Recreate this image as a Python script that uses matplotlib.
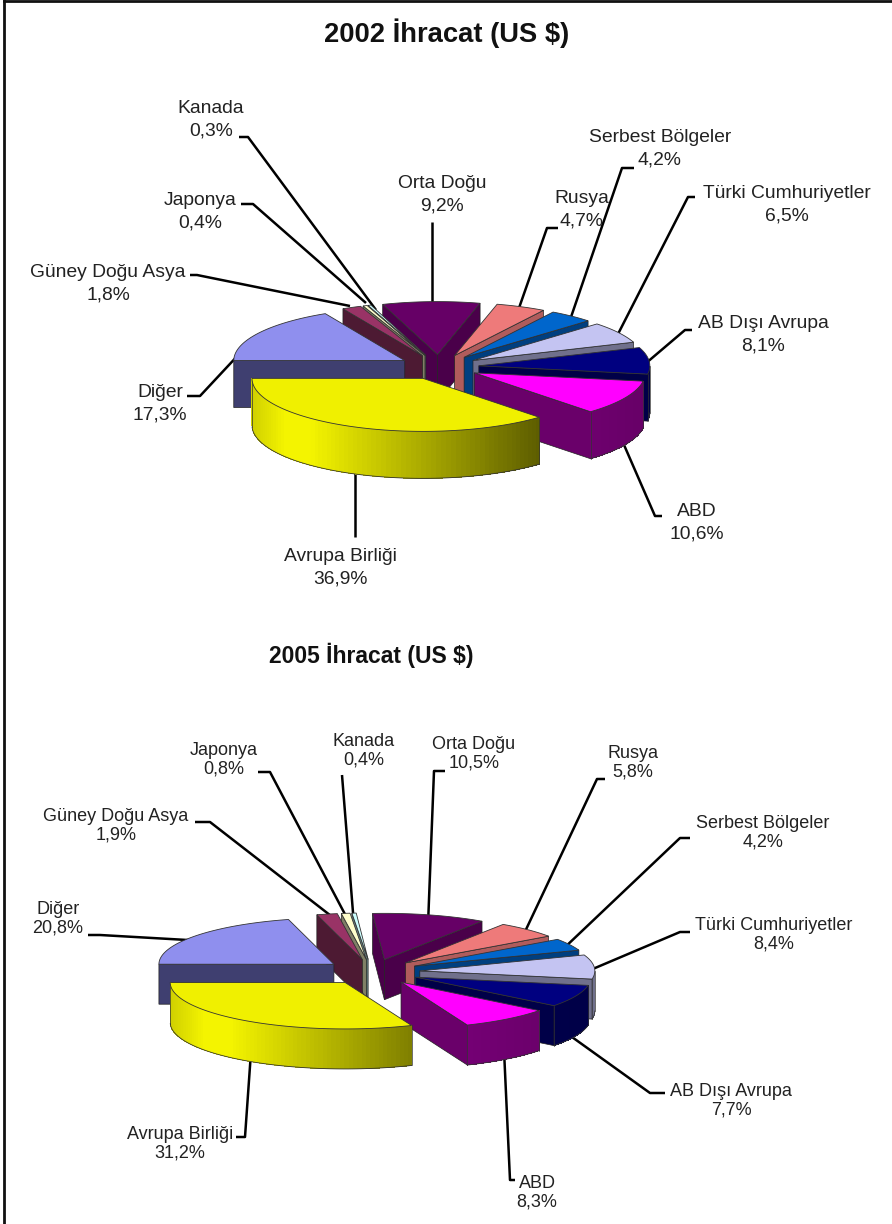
import numpy as np
import matplotlib
matplotlib.use('Agg')
import matplotlib.pyplot as plt
from matplotlib.colors import to_rgb
from matplotlib.patches import Polygon

plt.rcParams['font.family'] = ['Liberation Sans', 'DejaVu Sans']

# data, clockwise from the top slice
names = ['Orta Doğu', 'Rusya', 'Serbest Bölgeler', 'Türki Cumhuriyetler', 'AB Dışı Avrupa', 'ABD',
         'Avrupa Birliği', 'Diğer', 'Güney Doğu Asya', 'Japonya', 'Kanada']
values_2002 = [9.2, 4.7, 4.2, 6.5, 8.1, 10.6, 36.9, 17.3, 1.8, 0.4, 0.3]
values_2005 = [10.5, 5.8, 4.2, 8.4, 7.7, 8.3, 31.2, 20.8, 1.9, 0.8, 0.4]

top_colors = ['#660066', '#ee7a7a', '#0066cc', '#c4c4f2', '#000080', '#ff00ff',
              '#f0f000', '#8f8fee', '#993366', '#ffffcc', '#ccffff']
side_colors = ['#4a004a', '#b05c5c', '#003f80', '#70708c', '#000048', '#6a006a',
               '#3f3f70', '#3f3f70', '#4d1a33', '#808066', '#668080']
arc_colors = ['#4a004a', '#b05c5c', '#004d99', '#8080a0', '#000058', '#8a008a',
              '#f4f400', '#3f3f70', '#4d1a33', '#808066', '#668080']
# how much the outer wall darkens towards the right
arc_dark = [0.1, 0.1, 0.1, 0.1, 0.15, 0.2, 0.6, 0.1, 0.1, 0.1, 0.1]

# label centre and leader line, same order as names
layout_2002 = [
    ((442, 195), [(432, 222), (432, 305)]),
    ((582, 210), [(558, 228), (547, 228), (519, 308)]),
    ((660, 149), [(634, 168), (622, 168), (570, 320)]),
    ((787, 205), [(695, 197), (688, 197), (617, 336)]),
    ((763, 335), [(692, 330), (685, 330), (645, 364)]),
    ((697, 523), [(662, 516), (655, 516), (621, 438)]),
    ((340, 568), [(355, 537), (355, 470)]),
    ((160, 404), [(187, 396), (200, 396), (256, 336)]),
    ((108, 284), [(190, 275), (197, 275), (350, 306)]),
    ((200, 212), [(241, 204), (253, 204), (366, 303)]),
    ((211, 120), [(239, 137), (248, 137), (376, 310)]),
]
layout_2005 = [
    ((474, 754), [(445, 771), (434, 771), (428, 925)]),
    ((633, 763), [(605, 779), (597, 779), (522, 938)]),
    ((763, 833), [(690, 838), (680, 838), (562, 950)]),
    ((774, 935), [(690, 932), (680, 932), (588, 971)]),
    ((731, 1101), [(665, 1093), (650, 1093), (565, 1032)]),
    ((537, 1193), [(515, 1180), (510, 1180), (504, 1050)]),
    ((180, 1144), [(236, 1137), (245, 1137), (251, 1052)]),
    ((58, 919), [(88, 935), (100, 935), (205, 941)]),
    ((116, 826), [(195, 822), (210, 822), (335, 919)]),
    ((224, 760), [(258, 772), (270, 772), (348, 920)]),
    ((364, 751), [(342, 775), (342, 775), (354, 925)]),
]


def ell(a, ox, oy, r, k):
    return np.column_stack([ox + r*np.cos(a), oy - r*k*np.sin(a)])


def draw_pie(ax, values, start, cx, cy, r, k, depth, explode):
    vals = np.array(values, dtype=float)
    sweeps = vals/vals.sum()*2*np.pi
    a1s = np.radians(start) - np.concatenate([[0], np.cumsum(sweeps)[:-1]])
    a2s = a1s - sweeps
    mids = (a1s + a2s)/2
    z = 5
    # back slices first
    for i in np.argsort(-np.sin(mids)):
        a1, a2, mid = a1s[i], a2s[i], mids[i]
        ox = cx + explode*np.cos(mid)
        oy = cy - explode*k*np.sin(mid)
        angles = np.linspace(a1, a2, 80)
        arc = ell(angles, ox, oy, r, k)
        drop = np.array([0, depth])
        apex = np.array([ox, oy])
        # radial walls that face the viewer
        if np.cos(a1) < 0:
            ax.add_patch(Polygon([apex, arc[0], arc[0]+drop, apex+drop], fc=side_colors[i],
                                 ec='#222222', lw=0.5, zorder=z))
        if np.cos(a2) > 0:
            ax.add_patch(Polygon([apex, arc[-1], arc[-1]+drop, apex+drop], fc=side_colors[i],
                                 ec='#222222', lw=0.5, zorder=z))
        # outer wall, darker to the right
        base = np.array(to_rgb(arc_colors[i]))
        for j in range(len(arc)-1):
            if np.sin(angles[j]) >= 0:
                continue
            c = np.cos(angles[j])
            shade = np.clip(1.0 - arc_dark[i]*(c+0.65)/1.3, 0.3, 1.0)
            if c < -0.8:
                shade = 1.0 - 0.15*(-c-0.8)/0.2
            ax.add_patch(Polygon([arc[j], arc[j+1], arc[j+1]+drop, arc[j]+drop], fc=base*shade,
                                 ec='none', lw=0, antialiased=False, zorder=z))
        front = arc[np.sin(angles) < 0]
        if len(front):
            ax.plot(front[:, 0], front[:, 1]+depth, color='#333333', lw=0.6, zorder=z)
            ax.plot([front[0, 0]]*2, [front[0, 1], front[0, 1]+depth], color='#333333', lw=0.5, zorder=z)
            ax.plot([front[-1, 0]]*2, [front[-1, 1], front[-1, 1]+depth], color='#333333', lw=0.5, zorder=z)
        ax.add_patch(Polygon(np.vstack([apex, arc]), fc=top_colors[i], ec='#333333', lw=0.6, zorder=z))
        z += 1


def draw_labels(ax, values, layout, size, spacing):
    for name, v, (pos, leader) in zip(names, values, layout):
        pts = np.array(leader)
        ax.plot(pts[:, 0], pts[:, 1], color='black', lw=1.8, zorder=2, solid_capstyle='butt')
        txt = f'{name}\n{v:.1f}%'.replace('.', ',')
        ax.text(pos[0], pos[1], txt, ha='center', va='center', fontsize=size, color='#222222',
                linespacing=spacing, zorder=30)


fig = plt.figure(figsize=(8.92, 12.24), dpi=100)
ax = fig.add_axes([0, 0, 1, 1])
ax.set_xlim(0, 892)
ax.set_ylim(1224, 0)
ax.axis('off')

# picture frame: only left and top show
ax.plot([4, 4], [1224, 1], color='#111111', lw=2, zorder=1)
ax.plot([4, 892], [1, 1], color='#111111', lw=2, zorder=1)

ax.text(447, 33, '2002 İhracat (US $)', ha='center', va='center', fontsize=19.7, fontweight='bold', color='#111111')
ax.text(371, 655, '2005 İhracat (US $)', ha='center', va='center', fontsize=16.5, fontweight='bold', color='#111111')

draw_pie(ax, values_2002, 108.7, 439, 367, 171, 0.31, 47, 40)
draw_pie(ax, values_2005, 93.9, 372, 972, 175, 0.265, 40, 48)
draw_labels(ax, values_2002, layout_2002, 13.9, 1.45)
draw_labels(ax, values_2005, layout_2005, 13.0, 1.15)

fig.savefig('out.png', dpi=100)
